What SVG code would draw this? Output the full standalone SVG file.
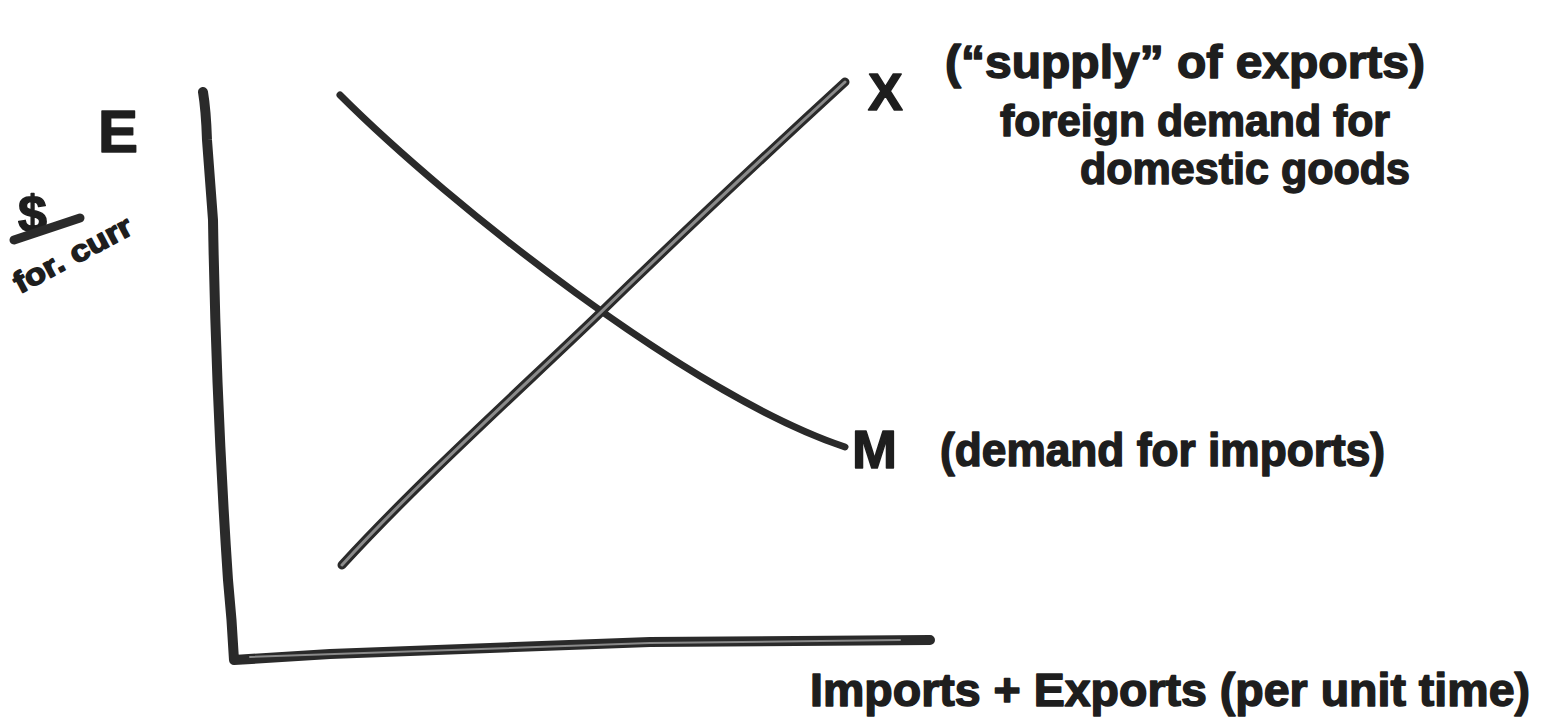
<svg xmlns="http://www.w3.org/2000/svg" width="1543" height="723" viewBox="0 0 1543 723">
<style>
.ink{fill:none;stroke:#2a2a2a;stroke-linecap:round;stroke-linejoin:round}
.hollow{fill:none;stroke:#8a8a8a;stroke-linecap:round;stroke-linejoin:round}
.t{font-family:"Liberation Sans",Arial,sans-serif;font-weight:bold;fill:#1e1e1e;stroke:#1e1e1e;stroke-width:1.5;stroke-linejoin:round}
</style>
<rect width="1543" height="723" fill="#ffffff"/>
<g id="axes">
<path class="ink" stroke-width="10" d="M203,92 Q206,110 207,140 L213,220 Q216,400 228,580 Q232,620 234,660 L330,654 L650,642 L930,640"/>
<path class="hollow" stroke-width="2" d="M250,657 L650,643 L900,640"/>
</g>
<g id="connectors">
<g id="curve-M">
<path class="ink" stroke-width="7" d="M340,95 C450,205 690,395 845,447"/>
</g>
<g id="curve-X">
<path class="ink" stroke-width="9" d="M342,565 C420,480 520,390 598,315 C680,235 760,160 845,82"/>
<path class="hollow" stroke-width="3" d="M342,565 C420,480 520,390 598,315 C680,235 760,160 845,82"/>
</g>
</g>
<g id="label-E"><text class="t" x="98" y="152" font-size="60">E</text></g>
<g id="label-y-units">
<text class="t" x="18" y="232" font-size="52">$</text>
<line class="ink" stroke-width="9" x1="14" y1="240" x2="80" y2="218"/>
<text class="t" font-size="30" transform="translate(20,294) rotate(-28)" textLength="130" lengthAdjust="spacingAndGlyphs">for. curr</text>
</g>
<g id="label-X">
<text class="t" x="868" y="110" font-size="52">X</text>
<text class="t" x="945" y="78" font-size="46" textLength="480" lengthAdjust="spacingAndGlyphs">(“supply” of exports)</text>
<text class="t" x="1000" y="136" font-size="44" textLength="390" lengthAdjust="spacingAndGlyphs">foreign demand for</text>
<text class="t" x="1080" y="184" font-size="44" textLength="330" lengthAdjust="spacingAndGlyphs">domestic goods</text>
</g>
<g id="label-M">
<text class="t" x="852" y="468" font-size="54">M</text>
<text class="t" x="940" y="466" font-size="46" textLength="445" lengthAdjust="spacingAndGlyphs">(demand for imports)</text>
</g>
<g id="label-x-axis">
<text class="t" x="810" y="706" font-size="46" textLength="720" lengthAdjust="spacingAndGlyphs">Imports + Exports (per unit time)</text>
</g>
</svg>
